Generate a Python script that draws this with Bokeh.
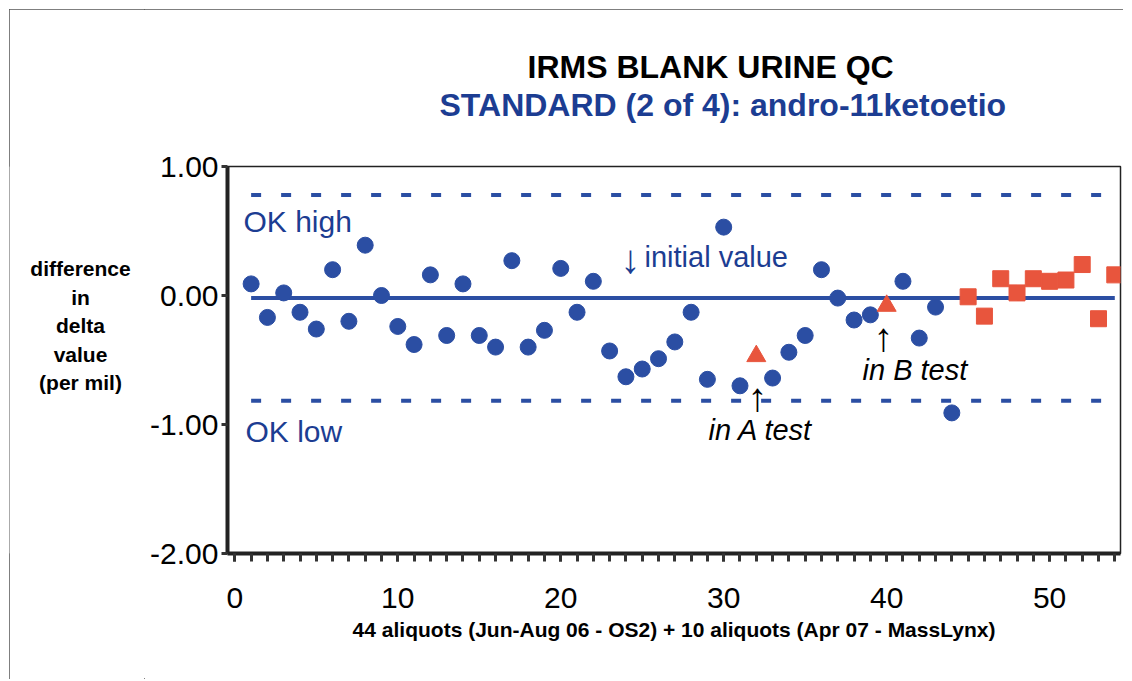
from bokeh.plotting import figure
from bokeh.layouts import row
from bokeh.models import Label, Range1d, SingleIntervalTicker, FixedTicker, NumeralTickFormatter, Title
from bokeh.embed import file_html
from bokeh.resources import INLINE

# ---- data ----
blue_x = list(range(1, 32)) + list(range(33, 40)) + list(range(41, 45))
blue_y = [0.09, -0.17, 0.02, -0.13, -0.26, 0.20, -0.20, 0.39, 0.00, -0.24,
          -0.38, 0.16, -0.31, 0.09, -0.31, -0.40, 0.27, -0.40, -0.27, 0.21,
          -0.13, 0.11, -0.43, -0.63, -0.57, -0.49, -0.36, -0.13, -0.65, 0.53,
          -0.70,
          -0.64, -0.44, -0.31, 0.20, -0.02, -0.19, -0.15,
          0.11, -0.33, -0.09, -0.91]
tri_x = [32, 40]
tri_y = [-0.47, -0.08]
red_x = [45, 46, 47, 48, 49, 50, 51, 52, 53, 54]
red_y = [-0.01, -0.16, 0.13, 0.02, 0.13, 0.11, 0.12, 0.24, -0.18, 0.16]
mean_x = [1, 54]
mean_y = [-0.02, -0.02]
ok_x = [1, 53.5]
ok_high = [0.78, 0.78]
ok_low = [-0.815, -0.815]
y_ticks = [-2, -1, 0, 1]
y_label_lines = ["difference", "in", "delta", "value", "(per mil)"]

BLUE = "#2b4ea3"
TXT_BLUE = "#1c3d92"
RED = "#e8553d"
FONT = "Liberation Sans"

# page geometry (layout placed at page offset OX, OY)
OX, OY = 9, 9
W, H = 1114, 670
LW = 135                     # width of the y-label panel
X0, X1 = -0.45, 54.35
Y0, Y1 = -2.0, 1.0
FL, FR, FT, FB = 227, 1120, 166, 553
def dx(px):
    return X0 + (px - FL) * (X1 - X0) / (FR - FL)
def dy(py):
    return Y0 + (FB - py) * (Y1 - Y0) / (FB - FT)

# ---- y-label panel (its frame is aligned with the main frame in the row) ----
q = figure(width=LW, height=H, output_backend="svg", toolbar_location=None,
           x_range=Range1d(OX, OX + LW), y_range=Range1d(FB, FT),
           x_axis_location=None, y_axis_location=None,
           min_border_left=0, min_border_right=0, min_border_top=0, min_border_bottom=0,
           background_fill_color="white", border_fill_color="white")
q.grid.visible = False
q.outline_line_color = None
for i, t in enumerate(y_label_lines):
    q.add_layout(Label(x=80, y=268 + i * 28.5, text=t, text_font=FONT,
                       text_font_size="21px", text_font_style="bold", text_color="black",
                       text_align="center", text_baseline="middle"))

# ---- main plot ----
p = figure(width=W - LW, height=H, output_backend="svg", toolbar_location=None,
           x_range=Range1d(X0, X1), y_range=Range1d(Y0, Y1),
           min_border_left=FL - OX - LW, min_border_right=OX + W - FR,
           min_border_top=FT - OY, min_border_bottom=OY + H - FB,
           background_fill_color="white", border_fill_color="white")
p.grid.visible = False
p.outline_line_color = "#222222"
p.outline_line_width = 1.5

# titles (first added sits closest to the plot)
sub = Title(text="STANDARD (2 of 4): andro-11ketoetio", align="left", offset=439 - FL,
            text_font=FONT, text_font_size="32px", text_font_style="bold",
            text_color=TXT_BLUE, standoff=0)
if "padding" in sub.properties():
    sub.padding = dict(left=0, right=0, top=0, bottom=44)
else:
    sub.standoff = 40
p.add_layout(sub, "above")
p.add_layout(Title(text="IRMS BLANK URINE QC", align="left", offset=527 - FL,
                   text_font=FONT, text_font_size="32px", text_font_style="bold",
                   text_color="black", standoff=0), "above")

# axes
xa = p.xaxis[0]
xa.ticker = SingleIntervalTicker(interval=10, num_minor_ticks=10)
xa.axis_line_width = 4
xa.axis_line_color = "#222222"
xa.major_tick_in = 0
xa.major_tick_out = 8
xa.minor_tick_in = 0
xa.minor_tick_out = 8
xa.major_tick_line_width = 3
xa.minor_tick_line_width = 3
xa.major_tick_line_color = "#333333"
xa.minor_tick_line_color = "#333333"
xa.major_label_text_font = FONT
xa.major_label_text_font_size = "30px"
xa.major_label_text_color = "black"
xa.major_label_standoff = 26
xa.axis_label = "44 aliquots (Jun-Aug 06 - OS2) + 10 aliquots (Apr 07 - MassLynx)"
xa.axis_label_text_font = FONT
xa.axis_label_text_font_size = "21px"
xa.axis_label_text_font_style = "bold"
xa.axis_label_text_color = "black"
xa.axis_label_standoff = 7

ya = p.yaxis[0]
ya.ticker = FixedTicker(ticks=y_ticks)
ya.formatter = NumeralTickFormatter(format="0.00")
ya.axis_line_width = 4
ya.axis_line_color = "#222222"
ya.major_tick_in = 0
ya.major_tick_out = 6
ya.major_tick_line_width = 3
ya.major_tick_line_color = "#333333"
ya.minor_tick_line_color = None
ya.major_label_text_font = FONT
ya.major_label_text_font_size = "30px"
ya.major_label_text_color = "black"
ya.major_label_standoff = 3

# reference lines
p.line(ok_x, ok_high, line_color=BLUE, line_width=4, line_dash="10 20")
p.line(ok_x, ok_low, line_color=BLUE, line_width=4, line_dash="10 20")
p.line(mean_x, mean_y, line_color=BLUE, line_width=4)

# points
p.scatter(blue_x, blue_y, marker="circle", size=16, fill_color=BLUE, line_color=BLUE)
p.scatter(red_x, red_y, marker="square", size=16, fill_color=RED, line_color=RED)
p.scatter(tri_x, tri_y, marker="triangle", size=19, fill_color=RED, line_color=RED)

def lab(text, px, py, size, color="black", style="normal", align="left"):
    p.add_layout(Label(x=dx(px), y=dy(py), text=text, text_font=FONT,
                       text_font_size=size, text_color=color, text_font_style=style,
                       text_align=align, text_baseline="middle"))

# annotations inside the plot
lab("OK high", 243, 221, "30px", TXT_BLUE)
lab("OK low", 245, 431, "30px", TXT_BLUE)
lab("\u2193", 630, 258, "40px", TXT_BLUE, "normal", "center")
lab("initial value", 644, 256, "29px", TXT_BLUE)
lab("in A test", 708, 429, "29px", "black", "italic")
lab("\u2191", 757, 396, "40px", "black", "normal", "center")
lab("in B test", 862, 369, "29px", "black", "italic")
lab("\u2191", 883, 336, "40px", "black", "normal", "center")

layout = row(q, p, spacing=0)
layout.styles = {"margin-left": f"{OX}px", "margin-top": f"{OY}px",
                 "outline": "1.5px solid #555555", "outline-offset": "-1px"}

open("out.html", "w").write(file_html(layout, INLINE))
